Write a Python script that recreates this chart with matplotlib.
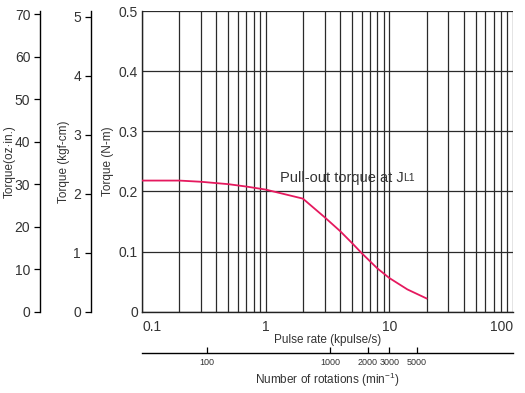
import matplotlib as mpl
import matplotlib.pyplot as plt
from matplotlib.ticker import NullLocator, FixedLocator

mpl.rcParams['font.family'] = ['Liberation Sans', 'DejaVu Sans']

# pull-out torque curve (kpulse/s, N-m)
pulse_rate = [0.1, 0.2, 0.3, 0.5, 0.7, 1.0, 2.0, 3.0, 4.0, 5.0, 6.0, 8.0, 10.0, 14.0, 20.0]
torque_nm = [0.218, 0.218, 0.216, 0.212, 0.208, 0.203, 0.188, 0.157, 0.134, 0.114,
             0.097, 0.072, 0.056, 0.037, 0.022]

nm_ticks = [0, 0.1, 0.2, 0.3, 0.4, 0.5]
nm_labels = ['0', '0.1', '0.2', '0.3', '0.4', '0.5']
kgf_ticks = [0, 1, 2, 3, 4, 5]
oz_ticks = [0, 10, 20, 30, 40, 50, 60, 70]
x_ticks = [0.1, 1, 10, 100]
x_labels = ['0.1', '1', '10', '100']
rpm_ticks = [100, 1000, 2000, 3000, 5000]

NM_TO_KGF = 10.197
NM_TO_OZ = 141.6
RPM_PER_KPPS = 300.0

TXT = '#333333'
GRID = '#2a2a2a'

fig = plt.figure(figsize=(5.25, 3.93), dpi=100)
ax = fig.add_axes([0.2705, 0.207, 0.7065, 0.765])

ax.set_xscale('log')
ax.set_xlim(0.1, 100)
ax.set_ylim(0, 0.5)
ax.set_xticks(x_ticks)
ax.set_xticklabels(x_labels)
ax.set_yticks(nm_ticks)
ax.set_yticklabels(nm_labels)
ax.grid(True, which='both', axis='x', color=GRID, lw=0.9)
ax.grid(True, which='major', axis='y', color=GRID, lw=0.9)
ax.tick_params(which='both', length=0, labelsize=10, labelcolor=TXT)
ax.tick_params(axis='x', pad=6)
ax.tick_params(axis='y', pad=3)
xl = ax.get_xticklabels()
xl[0].set_ha('left')
xl[-1].set_ha('right')
for s in ['top', 'right']:
    ax.spines[s].set_visible(False)
for s in ['left', 'bottom']:
    ax.spines[s].set_color('#222222')
    ax.spines[s].set_linewidth(1.0)

ax.plot(pulse_rate, torque_nm, color='#e5195e', lw=1.3, zorder=5)

t1 = ax.text(1.3, 0.223, 'Pull-out torque at J', fontsize=10.5, color=TXT,
             ha='left', va='center', zorder=6)
ax.annotate('L1', xy=(1, 0.24), xycoords=t1, fontsize=7.5, color=TXT,
            ha='left', va='baseline', zorder=6)

ax.set_xlabel('Pulse rate (kpulse/s)', fontsize=8.5, color=TXT, labelpad=0)
ax.set_ylabel('Torque (N-m)', fontsize=8.5, color=TXT, labelpad=3)

# kgf-cm axis
ax_kgf = ax.secondary_yaxis(-0.138, functions=(lambda v: v * NM_TO_KGF, lambda v: v / NM_TO_KGF))
ax_kgf.set_yticks(kgf_ticks)
ax_kgf.yaxis.set_minor_locator(NullLocator())
ax_kgf.tick_params(length=4, width=0.9, labelsize=10, labelcolor=TXT, pad=3)
ax_kgf.spines['left'].set_linewidth(1.0)
ax_kgf.set_ylabel('Torque (kgf-cm)', fontsize=8.5, color=TXT, labelpad=2)

# oz-in axis
ax_oz = ax.secondary_yaxis(-0.275, functions=(lambda v: v * NM_TO_OZ, lambda v: v / NM_TO_OZ))
ax_oz.set_yticks(oz_ticks)
ax_oz.yaxis.set_minor_locator(NullLocator())
ax_oz.tick_params(length=4, width=0.9, labelsize=10, labelcolor=TXT, pad=3)
ax_oz.spines['left'].set_linewidth(1.0)
ax_oz.set_ylabel('Torque(oz\u00b7in.)', fontsize=8.5, color=TXT, labelpad=-1)

# rotation speed axis
ax_rpm = ax.secondary_xaxis(-0.136, functions=(lambda v: v * RPM_PER_KPPS, lambda v: v / RPM_PER_KPPS))
ax_rpm.xaxis.set_major_locator(FixedLocator(rpm_ticks))
ax_rpm.set_xticklabels([str(v) for v in rpm_ticks])
ax_rpm.xaxis.set_minor_locator(NullLocator())
ax_rpm.tick_params(direction='in', length=4, width=0.9, labelsize=6.5, labelcolor=TXT, pad=4)
ax_rpm.spines['bottom'].set_linewidth(1.0)
ax_rpm.set_xlabel('Number of rotations (min$^{\\mathregular{-1}}$)', fontsize=8.5,
                  color=TXT, labelpad=3)

fig.savefig('out.png', dpi=100)
